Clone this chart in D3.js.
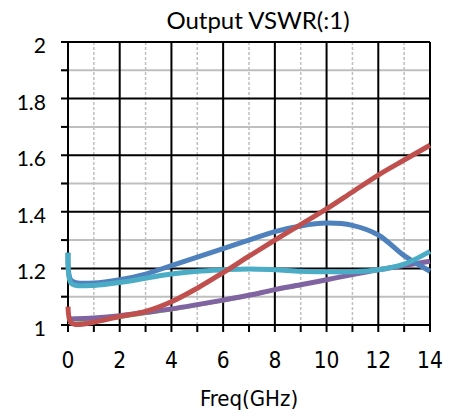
<!DOCTYPE html>
<html>
<head>
<meta charset="utf-8">
<script src="https://cdn.jsdelivr.net/npm/d3@7"></script>
<style>
  body { margin: 0; background: #fff; }
  svg text { fill: #000; }
  .calibri { font-family: Lato, "Open Sans", sans-serif; }
  .tahoma { font-family: "DejaVu Sans", sans-serif; font-stretch: condensed; }
</style>
</head>
<body>
<div id="grafico"></div>
<script>
ancho = 453;
alto = 419;
margen = {top: 42, right: 23, bottom: 94, left: 68};

titulo = "Output VSWR(:1)";
tituloX = "Freq(GHz)";

// frecuencias comunes (GHz)
freq = [0, 0.1, 0.3, 1, 2, 3, 4, 5, 6, 7, 8, 9, 10, 11, 12, 13, 14];

rojo    = [1.065, 1.01, 1.002, 1.01, 1.03, 1.048, 1.082, 1.13, 1.185, 1.243, 1.30, 1.355, 1.41, 1.47, 1.53, 1.583, 1.635];
azul    = [1.255, 1.16, 1.15, 1.148, 1.16, 1.18, 1.21, 1.24, 1.27, 1.30, 1.33, 1.35, 1.36, 1.352, 1.318, 1.245, 1.19];
cian    = [1.255, 1.15, 1.14, 1.14, 1.15, 1.165, 1.18, 1.19, 1.195, 1.198, 1.195, 1.19, 1.188, 1.188, 1.195, 1.215, 1.26];
morado  = [1.025, 1.022, 1.022, 1.025, 1.033, 1.045, 1.057, 1.072, 1.088, 1.105, 1.125, 1.142, 1.16, 1.178, 1.195, 1.21, 1.225];
verde   = [1.005, 1.008, 1.01, 1.015, 1.024, 1.037, 1.05, 1.066, 1.082, 1.1, 1.12, 1.138, 1.157, 1.175, 1.193, 1.208, 1.223];

ticksX = [0, 2, 4, 6, 8, 10, 12, 14];
ticksY = [1, 1.2, 1.4, 1.6, 1.8, 2];

var series = [
  {datos: verde, color: "#9BBB59", grosor: 1.5},
  {datos: morado, color: "#8064A2", grosor: 5},
  {datos: azul, color: "#4F81BD", grosor: 5},
  {datos: cian, color: "#4BACC6", grosor: 5},
  {datos: rojo, color: "#C0504D", grosor: 5}
];

var w = ancho - margen.left - margen.right;
var h = alto - margen.top - margen.bottom;

var svg = d3.select("#grafico")
    .append("svg")
    .attr("width", ancho)
    .attr("height", alto);

var g = svg.append("g")
    .attr("transform", "translate(" + margen.left + "," + margen.top + ")");

var escalaX = d3.scaleLinear().domain([0, 14]).range([0, w]);
var escalaY = d3.scaleLinear().domain([1, 2]).range([h, 0]);

var menoresX = d3.range(1, 14, 2);
var menoresY = d3.range(1.1, 2, 0.2);

// rejilla menor
g.selectAll(".menorY")
    .data(menoresY)
    .enter()
    .append("line")
    .attr("x1", -7).attr("x2", w)
    .attr("y1", d => escalaY(d)).attr("y2", d => escalaY(d))
    .attr("stroke", "#BFBFBF")
    .attr("stroke-width", 2);

g.selectAll(".menorYtick")
    .data(menoresY)
    .enter()
    .append("line")
    .attr("x1", -7).attr("x2", 0)
    .attr("y1", d => escalaY(d)).attr("y2", d => escalaY(d))
    .attr("stroke", "#000")
    .attr("stroke-width", 2);

g.selectAll(".menorX")
    .data(menoresX)
    .enter()
    .append("line")
    .attr("x1", d => escalaX(d)).attr("x2", d => escalaX(d))
    .attr("y1", 0).attr("y2", h)
    .attr("stroke", "#BFBFBF")
    .attr("stroke-width", 1.5)
    .attr("stroke-dasharray", "3,2");

g.selectAll(".menorXtick")
    .data(menoresX)
    .enter()
    .append("line")
    .attr("x1", d => escalaX(d)).attr("x2", d => escalaX(d))
    .attr("y1", h).attr("y2", h + 7)
    .attr("stroke", "#000")
    .attr("stroke-width", 2);

// rejilla mayor
g.selectAll(".mayorX")
    .data(ticksX)
    .enter()
    .append("line")
    .attr("x1", d => escalaX(d)).attr("x2", d => escalaX(d))
    .attr("y1", 0).attr("y2", h + 7)
    .attr("stroke", "#000")
    .attr("stroke-width", 2);

g.selectAll(".mayorY")
    .data(ticksY)
    .enter()
    .append("line")
    .attr("x1", -7).attr("x2", w)
    .attr("y1", d => escalaY(d)).attr("y2", d => escalaY(d))
    .attr("stroke", "#000")
    .attr("stroke-width", 2);

// etiquetas
g.selectAll(".etiqY")
    .data(ticksY)
    .enter()
    .append("text")
    .attr("class", "calibri")
    .text(d => d)
    .attr("x", -22)
    .attr("y", d => escalaY(d) + 11)
    .attr("text-anchor", "end")
    .attr("font-size", "21px");

g.selectAll(".etiqX")
    .data(ticksX)
    .enter()
    .append("text")
    .attr("class", "tahoma")
    .text(d => d)
    .attr("x", d => escalaX(d))
    .attr("y", h + 43)
    .attr("text-anchor", "middle")
    .attr("font-size", "22.5px");

svg.append("text")
    .attr("class", "calibri")
    .text(titulo)
    .attr("x", 258)
    .attr("y", 29)
    .attr("text-anchor", "middle")
    .attr("font-size", "24px");

svg.append("text")
    .attr("class", "tahoma")
    .text(tituloX)
    .attr("x", 249)
    .attr("y", 406)
    .attr("text-anchor", "middle")
    .attr("font-size", "22px");

// curvas
var linea = function (datos) {
  return d3.line()
    .x((d, i) => escalaX(freq[i]))
    .y(d => escalaY(d))
    .curve(d3.curveCatmullRom.alpha(0.5))(datos);
};

g.selectAll(".serie")
    .data(series)
    .enter()
    .append("path")
    .attr("d", d => linea(d.datos))
    .attr("fill", "none")
    .attr("stroke", d => d.color)
    .attr("stroke-width", d => d.grosor)
    .attr("stroke-linejoin", "round");
</script>
</body>
</html>
